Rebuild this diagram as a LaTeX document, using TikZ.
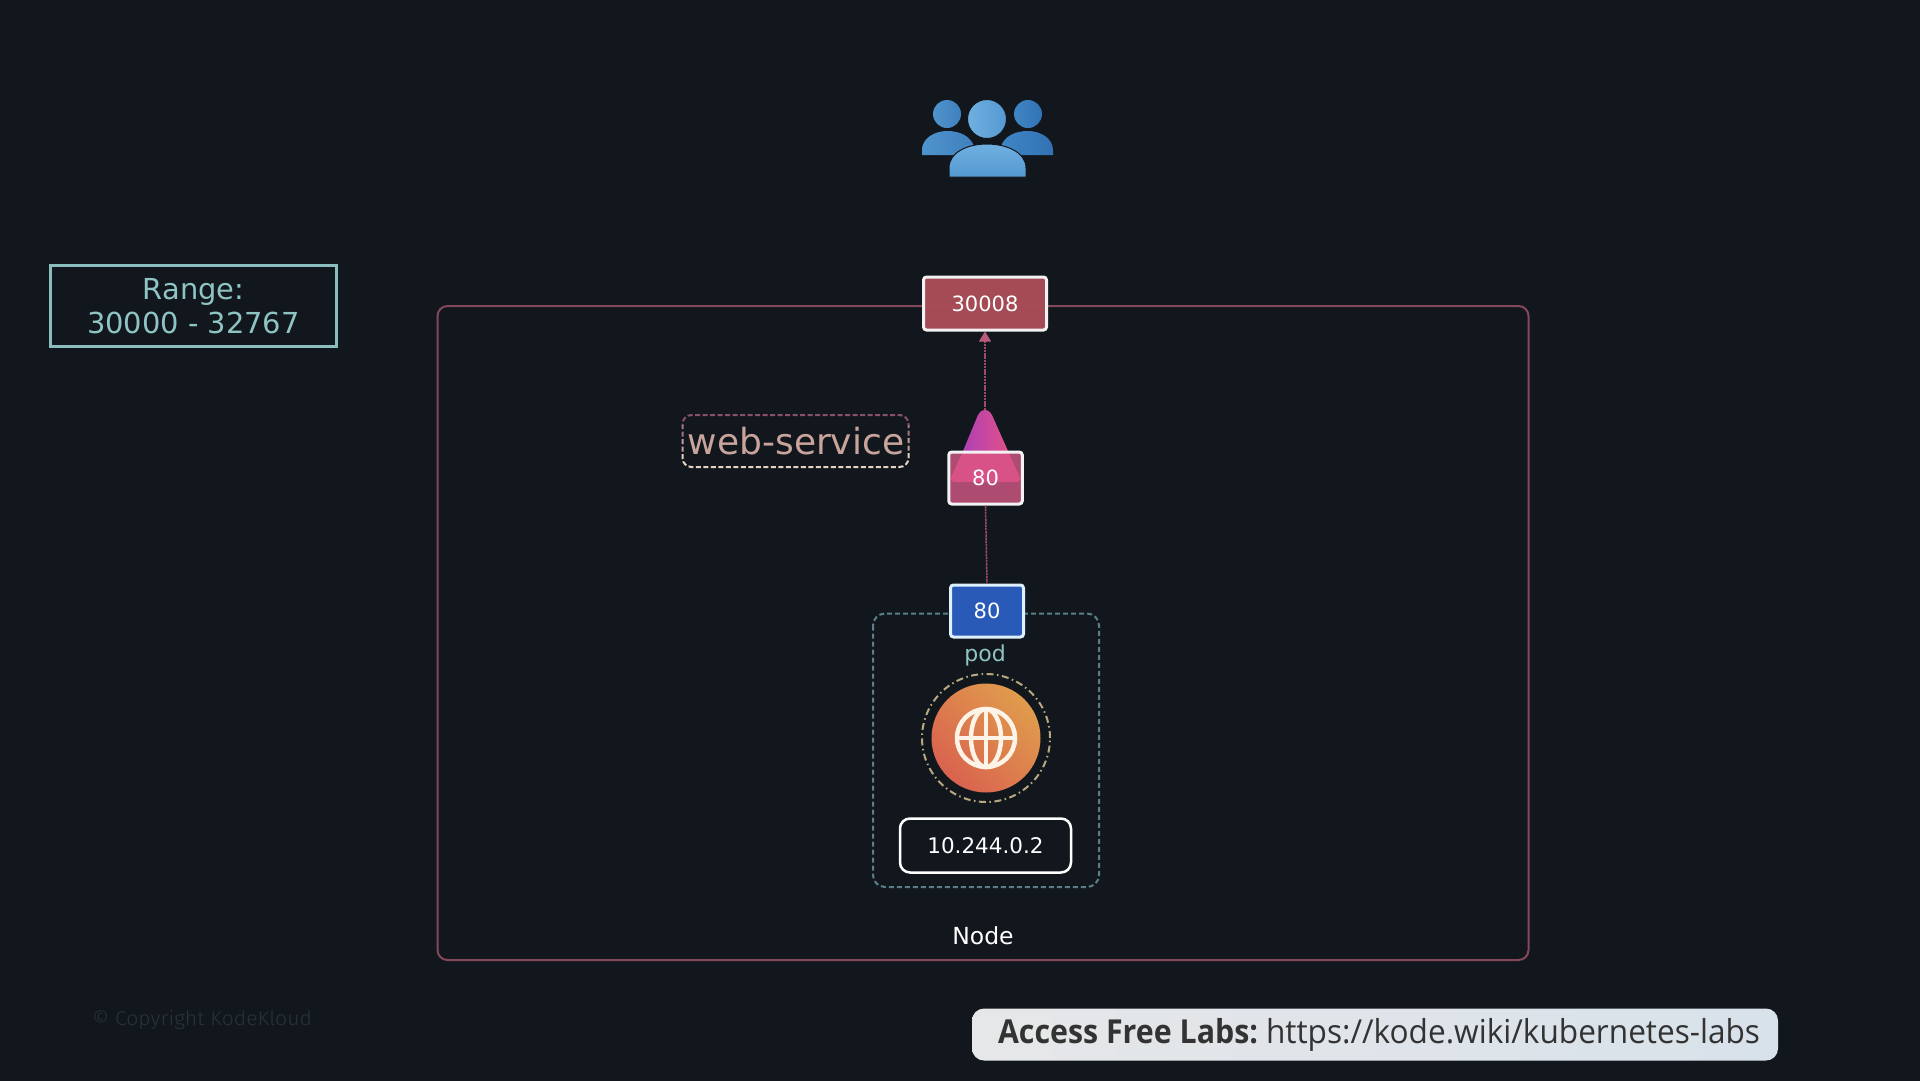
\documentclass[tikz,border=0pt]{standalone}
\usepackage{fontspec}
\setmainfont{DejaVu Sans}
\newfontfamily\bannerfont{Open Sans}
\newfontfamily\copyfont{Fira Sans Light}
\usetikzlibrary{arrows.meta,shadings}
\definecolor{bgdark}{HTML}{12171D}
\definecolor{teal}{HTML}{8FC4C4}
\definecolor{rangeedge}{HTML}{8ABDBD}
\definecolor{noderim}{HTML}{85485A}
\definecolor{podrim}{HTML}{5A7F88}
\definecolor{wire}{HTML}{A04A66}
\definecolor{tipcol}{HTML}{BC5A7C}
\definecolor{portred}{HTML}{AA4E58}
\definecolor{portpinklow}{HTML}{AD4B70}
\definecolor{portpinkhigh}{HTML}{D85287}
\definecolor{portblue}{HTML}{2A5AB8}
\definecolor{portedge}{HTML}{F2F2F2}
\definecolor{podedge}{HTML}{DDF0FF}
\definecolor{globeline}{HTML}{FDF3E6}
\definecolor{ringcol}{HTML}{B8A880}
\definecolor{websvc}{HTML}{C9A49C}
\definecolor{dashtop}{HTML}{8A5068}
\definecolor{dashlow}{HTML}{E6D2C0}
\definecolor{uA}{HTML}{4F93CC}
\definecolor{uB}{HTML}{3F80BC}
\definecolor{uC}{HTML}{6FB0E0}
\definecolor{uD}{HTML}{5599D2}
\definecolor{uE}{HTML}{3F85C4}
\definecolor{uF}{HTML}{3272B4}
\definecolor{globeA}{HTML}{E09C4C}
\definecolor{globeB}{HTML}{D9624F}
\definecolor{triA}{HTML}{B040B4}
\definecolor{triB}{HTML}{E0508A}
\definecolor{bannerA}{HTML}{E6E7E9}
\definecolor{bannerB}{HTML}{D8E2EA}
\definecolor{bannertext}{HTML}{333333}
\definecolor{copytext}{HTML}{2A323A}
\newcommand{\fsz}[1]{\fontsize{#1pt}{#1pt}\selectfont}
\tikzset{
  x=1pt,y=-1pt,
  port/.style={draw=portedge,line width=3pt,rounded corners=3pt,inner sep=0pt,text=white,font=\fsz{21}},
  wirelink/.style={draw=wire,line width=1.5pt,dash pattern=on 2.5pt off .7pt},
  whitetext/.style={text=white,inner sep=0pt},
  headbody/.style={draw=bgdark,line width=1pt},
}
\begin{document}
\begin{tikzpicture}
\useasboundingbox (0,0) rectangle (1920,1080);
\fill[bgdark] (-5,-5) rectangle (1925,1085);

% users
\shade[left color=uA,right color=uB] (947,114) circle[radius=14pt];
\shade[left color=uE,right color=uF] (1028,114) circle[radius=14pt];
\shade[left color=uA,right color=uB] (922,155) -- (922,150) .. controls (922,138) and (935,131) .. (947,131) .. controls (960,131) and (970,136) .. (974,146) -- (974,155) -- cycle;
\shade[left color=uE,right color=uF] (1053,155) -- (1053,150) .. controls (1053,138) and (1040,131) .. (1028,131) .. controls (1015,131) and (1005,136) .. (1001,146) -- (1001,155) -- cycle;
\shade[left color=uC,right color=uD,headbody] (987,119) circle[radius=19.5pt];
\shade[top color=uC,bottom color=uD,headbody] (949,177) -- (949,168) .. controls (949,152) and (968,144) .. (987,144) .. controls (1006,144) and (1026,152) .. (1026,168) -- (1026,177) -- cycle;

% node frame
\draw[noderim,line width=2pt,rounded corners=10pt] (437.5,306) rectangle (1528.5,960);

% pod frame
\draw[podrim,line width=2pt,rounded corners=12pt,dash pattern=on 5pt off 3pt] (873,613.5) rectangle (1099,887);

% range
\node[draw=rangeedge,line width=2.5pt,minimum width=286pt,minimum height=81pt,inner sep=0pt,text=teal,align=center,font=\fsz{28.9}] (range) at (193.5,306) {\rule{0pt}{22pt}Range:\\[5pt]30000 - 32767};

% ports
\path[fill=portpinklow,rounded corners=3pt] (949,451.5) rectangle (1022,503.5);
\shade[left color=triA,right color=triB] (963,451) -- (978,415) .. controls (982,408) and (988,408) .. (992,415) -- (1008,451) -- cycle;
\fill[portpinkhigh,rounded corners=6pt] (949,482) -- (963,451) -- (1008,451) -- (1022,482) -- cycle;
\coordinate (apex) at (985,410);
\node[port,fill=portred,fill opacity=.96,text opacity=1,minimum width=123pt,minimum height=53pt] (svc30008) at (985,303.5) {30008};
\node[port,minimum width=73.5pt,minimum height=52pt] (svc80) at (985.5,478) {80};
\node[port,fill=portblue,draw=podedge,minimum width=73pt,minimum height=52pt] (pod80) at (987,611) {80};

\coordinate (tipstart) at (985,340);
\draw[wirelink] (apex) -- (tipstart);
\draw[draw=tipcol,-{Triangle[length=10pt,width=12pt,fill=tipcol]},line width=1pt] (tipstart) -- (svc30008.south);
\draw[wirelink] (svc80.south) -- (pod80.north);

% web-service
\foreach \p/\ya/\yb in {0/410/425,30/425/438,60/438/452,100/452/472}{
  \begin{scope}
    \clip (670,\ya) rectangle (920,\yb);
    \draw[dashlow!\p!dashtop,line width=2pt,rounded corners=9pt,dash pattern=on 5pt off 2.5pt] (682.5,415) rectangle (908.5,467);
  \end{scope}
}
\node[text=websvc,inner sep=0pt,font=\fsz{36}] (websvc) at (796,441) {web-service};

% pod
\node[text=teal,inner sep=0pt,font=\fsz{22}] (podlabel) at (985,655.5) {pod};
\shade[left color=globeA,right color=globeB,shading angle=-45] (986,738) circle[radius=54.5pt];
\draw[ringcol,line width=2pt,dash pattern=on 7pt off 3.5pt on 1.5pt off 3.5pt] (986,738) circle[radius=64pt];
\begin{scope}[globeline,line width=4.5pt]
  \draw (986,738) circle[radius=29pt];
  \draw (986,738) ellipse[x radius=15pt,y radius=29pt];
  \draw (986,709) -- (986,767);
  \draw (957,738) -- (1015,738);
\end{scope}
\node[draw=white,line width=2.5pt,rounded corners=10pt,minimum width=171pt,minimum height=54pt,inner sep=0pt,text=white,font=\fsz{21.5}] (podip) at (985.5,845.5) {10.244.0.2};
\node[whitetext,font=\fsz{23.5}] (nodelabel) at (983,936) {Node};

% footer
\node[text=copytext,inner sep=0pt,font=\copyfont\fsz{20}] (copy) at (202,1020) {\resizebox{220pt}{\height}{\textcopyright{} Copyright KodeKloud}};
\node[left color=bannerA,right color=bannerB,rounded corners=12pt,minimum width=806pt,minimum height=52pt,inner sep=0pt,text=bannertext,font=\bannerfont\fsz{33}] (banner) at (1375,1034.5) {\raisebox{-3pt}{\hspace{8pt}\resizebox{260pt}{\height}{\textbf{Access Free Labs:}}\hspace{8pt}\resizebox{494pt}{\height}{https://kode.wiki/kubernetes-labs}}};
\end{tikzpicture}
\end{document}
